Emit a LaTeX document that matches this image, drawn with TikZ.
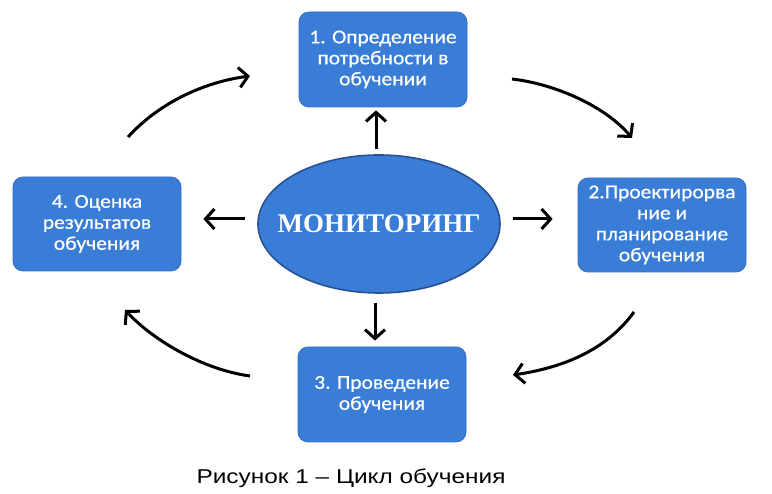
\documentclass[tikz,border=0pt]{standalone}
\usepackage{fontspec}
\setmainfont{Liberation Serif}
\newfontfamily\boxfont[FakeStretch=1.1,FakeBold=0.6]{Carlito}
\newfontfamily\capfont[FakeStretch=1.22]{Liberation Sans}
\usetikzlibrary{arrows.meta,shapes.geometric}
\definecolor{boxblue}{RGB}{58,125,214}
\definecolor{boxedge}{RGB}{50,110,195}
\definecolor{elledge}{RGB}{40,80,150}
\tikzset{
  stagebox/.style={draw=boxedge, line width=0.8pt, fill=boxblue, rounded corners=10pt,
    minimum width=168pt, minimum height=95pt, inner sep=2pt, text=white,
    align=center, font=\boxfont\fontsize{19.5}{21}\selectfont},
  arr/.style={line width=3pt, -{Straight Barb[length=9pt,width=20pt]}},
}
\begin{document}
\begin{tikzpicture}[x=1pt,y=1pt]
\useasboundingbox (0,0) rectangle (772,494);
\fill[white] (0,0) rectangle (772,494);

\node[stagebox] (b1) at (383,434.5) {1. Определение\\потребности в\\обучении};
\node[stagebox, minimum height=94pt] (b2) at (662,269) {2.Проектирорва\\ние и\\планирование\\обучения};
\node[stagebox] (b3) at (382,99.5) {3. Проведение\\обучения};
\node[stagebox, minimum height=94pt] (b4) at (97,270) {4. Оценка\\результатов\\обучения};

\node[ellipse, draw=elledge, line width=1.6pt, fill=boxblue, minimum width=242pt,
  minimum height=138pt, inner sep=0pt] (ell) at (379,270) {};
\node[text=white, font=\bfseries\fontsize{27}{30}\selectfont, inner sep=0pt] (mon) at (ell.center) {МОНИТОРИНГ};

\draw[arr, shorten <=5pt, shorten >=3pt] ([xshift=-3pt]ell.north) -- ([xshift=-3pt]ell.north |- b1.south);
\draw[arr, shorten <=12pt, shorten >=25pt] ([yshift=5pt]ell.east) -- ([yshift=5pt]ell.east -| b2.west);
\draw[arr, shorten <=12pt, shorten >=22pt] ([yshift=5pt]ell.west) -- ([yshift=5pt]ell.west -| b4.east);
\draw[arr, shorten <=9pt, shorten >=6pt] ([xshift=-4pt]ell.south) -- ([xshift=-4pt]ell.south |- b3.north);

\coordinate (tl1) at (128,357);
\coordinate (tl2) at (250,418);
\coordinate (tr1) at (512,415);
\coordinate (tr2) at (632,356);
\coordinate (br1) at (634,182);
\coordinate (br2) at (513,119);
\coordinate (bl1) at (250,118);
\coordinate (bl2) at (125,184);

\draw[arr] (tl1) .. controls (160,392) and (205,412) .. (tl2);
\draw[arr] (tr1) .. controls (555,410) and (605,388) .. (tr2);
\draw[arr] (br1) .. controls (605,142) and (560,126) .. (br2);
\draw[arr] (bl1) .. controls (205,124) and (155,152) .. (bl2);

\node[font=\capfont\fontsize{20}{22}\selectfont, inner sep=0pt, anchor=base] (caption) at (351,10) {Рисунок 1 – Цикл обучения};
\end{tikzpicture}
\end{document}
